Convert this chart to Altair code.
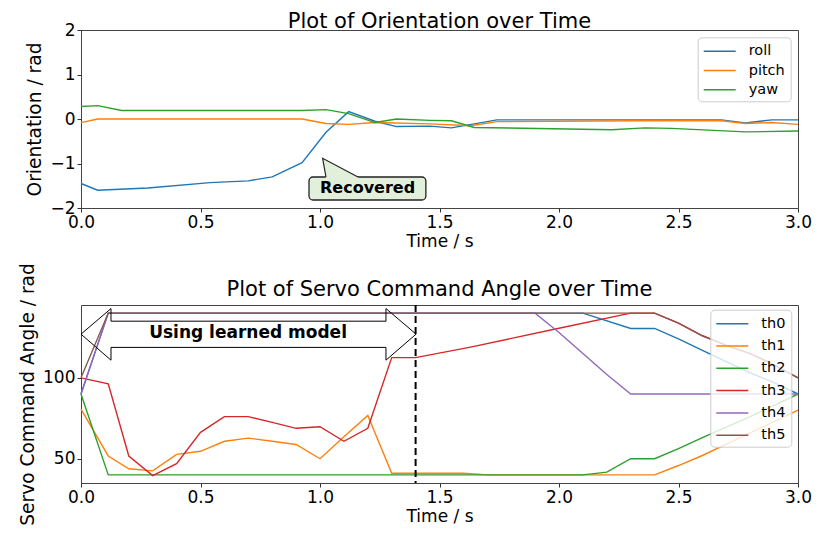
import altair as alt
import pandas as pd

FONT = "DejaVu Sans"

# ---------------- Orientation data (rad) ----------------
roll_t = [0.0, 0.07, 0.28, 0.54, 0.70, 0.80, 0.925, 1.025, 1.12, 1.23, 1.32, 1.46, 1.55, 1.74, 2.68, 2.78, 2.89, 3.0]
roll_v = [-1.45, -1.60, -1.55, -1.43, -1.39, -1.30, -0.98, -0.30, 0.165, -0.05, -0.17, -0.16, -0.20, -0.02, -0.02, -0.09, -0.02, -0.02]

pitch_t = [0.0, 0.07, 0.925, 1.025, 1.12, 1.23, 1.46, 1.63, 1.74, 2.33, 2.68, 2.78, 2.89, 3.0]
pitch_v = [-0.08, 0.0, 0.0, -0.10, -0.12, -0.08, -0.11, -0.15, -0.06, -0.04, -0.04, -0.10, -0.08, -0.12]

yaw_t = [0.0, 0.07, 0.17, 0.925, 1.025, 1.12, 1.23, 1.32, 1.46, 1.55, 1.645, 2.22, 2.36, 2.47, 2.78, 3.0]
yaw_v = [0.28, 0.30, 0.19, 0.19, 0.21, 0.12, -0.08, 0.0, -0.03, -0.04, -0.19, -0.24, -0.20, -0.21, -0.29, -0.27]

orient_names = ["roll", "pitch", "yaw"]
orient_colors = ["#1f77b4", "#ff7f0e", "#2ca02c"]

# ---------------- Servo command data ----------------
th0_t = [0.0, 0.114, 2.1, 2.3, 2.4, 2.5, 2.6, 2.7, 2.8, 2.9, 3.0]
th0_v = [90, 140, 140, 130.5, 130.5, 124, 117, 110, 103, 97, 90]

th1_t = [0.0, 0.114, 0.2, 0.3, 0.4, 0.5, 0.6, 0.7, 0.8, 0.9, 1.0, 1.1, 1.2, 1.3, 1.6, 1.7, 2.4, 2.5, 2.6, 2.7, 2.8, 2.9, 3.0]
th1_v = [80.6, 51.7, 43.8, 42.5, 52.7, 54.6, 60.8, 62.7, 60.8, 58.8, 50, 63.6, 76.7, 41, 41, 40, 40, 45.8, 52, 59, 66, 73, 80]

th2_t = [0.0, 0.114, 2.1, 2.2, 2.3, 2.4, 2.5, 2.6, 2.7, 2.8, 2.9, 3.0]
th2_v = [90, 40, 40, 41.7, 50, 50, 56.3, 63, 69.5, 76, 83, 90]

th3_t = [0.0, 0.114, 0.2, 0.3, 0.4, 0.5, 0.6, 0.7, 0.8, 0.9, 1.0, 1.1, 1.2, 1.3, 1.4, 1.63, 1.98, 2.3, 2.4, 2.5, 2.6, 2.7, 2.8, 2.9, 3.0]
th3_v = [100, 96.3, 51.7, 39.6, 47, 66.3, 76, 76, 72.5, 68.8, 69.8, 60.8, 68.8, 112.5, 112.5, 119, 130, 140, 140, 133.8, 126, 120, 115, 108, 100]

th4_t = [0.0, 0.114, 1.9, 2.0, 2.1, 2.2, 2.3, 3.0]
th4_v = [90, 140, 140, 128, 115, 102, 90, 90]

th5_t = [0.0, 0.114, 2.4, 2.5, 2.6, 2.7, 2.8, 2.9, 3.0]
th5_v = [100, 140, 140, 133.8, 126, 120, 115, 108, 100]

servo_names = ["th0", "th1", "th2", "th3", "th4", "th5"]
servo_colors = ["#1f77b4", "#ff7f0e", "#2ca02c", "#d62728", "#9467bd", "#8c564b"]

# ---------------- Annotations (data units) ----------------
switch_time = [1.4]

arrow_t = [0.0, 0.1255, 0.1255, 1.276, 1.276, 1.402, 1.276, 1.276, 0.1255, 0.1255, 0.0]
arrow_v = [127, 142.8, 135, 135, 142.8, 127, 110.9, 118.8, 118.8, 110.9, 127]
arrow_label = ["Using learned model"]
arrow_label_t = [0.699]
arrow_label_v = [127.4]

rec_label = ["Recovered"]
rec_label_t = [1.199]
rec_label_v = [-1.56]
rec_box_t = [0.954, 1.443]
rec_box_v = [-1.303, -1.82]
wedge_t = [1.011, 1.025, 1.159]
wedge_top = [-0.883, -0.923, -1.303]
wedge_base = [-0.883, -1.33, -1.33]
wedge_line_t = [1.025, 1.011, 1.159]
wedge_line_v = [-1.303, -0.883, -1.303]

BOX_FILL = "#e2efda"


def long_df(names, ts, vs):
    rows = []
    for n, t, v in zip(names, ts, vs):
        for i, (a, b) in enumerate(zip(t, v)):
            rows.append({"series": n, "t": a, "v": b, "i": i})
    return pd.DataFrame(rows)


orient_df = long_df(orient_names, [roll_t, pitch_t, yaw_t], [roll_v, pitch_v, yaw_v])
servo_df = long_df(servo_names,
                   [th0_t, th1_t, th2_t, th3_t, th4_t, th5_t],
                   [th0_v, th1_v, th2_v, th3_v, th4_v, th5_v])

W, H = 717, 178
x_ticks = [0, 0.5, 1, 1.5, 2, 2.5, 3]
xscale = alt.Scale(domain=[0, 3], nice=False, zero=False)


def legend(lx, ly, rowpad):
    return alt.Legend(orient="none", legendX=lx, legendY=ly, title=None,
                      symbolType="M-1,0H3", symbolSize=256, symbolStrokeWidth=1.5,
                      labelFont=FONT, labelFontSize=14.5, labelOffset=28,
                      padding=5, rowPadding=rowpad,
                      strokeColor="#cccccc", fillColor="rgba(255,255,255,0.8)",
                      cornerRadius=4)


# ---------------- Top chart ----------------
yscale_top = alt.Scale(domain=[-2, 2], nice=False, zero=False)
x_top = alt.X("t:Q", scale=xscale, axis=alt.Axis(values=x_ticks, format=".1f", title="Time / s"))
y_top = alt.Y("v:Q", scale=yscale_top, axis=alt.Axis(values=[-2, -1, 0, 1, 2], title="Orientation / rad"))

top_lines = alt.Chart(orient_df).mark_line(strokeWidth=1.4).encode(
    x=x_top, y=y_top,
    color=alt.Color("series:N", scale=alt.Scale(domain=orient_names, range=orient_colors),
                    sort=orient_names, legend=legend(616.7, 7.3, 3.2)),
    detail="series:N",
    order="i:Q",
)

box_df = pd.DataFrame({"t": [rec_box_t[0]], "t2": [rec_box_t[1]], "v": [rec_box_v[0]], "v2": [rec_box_v[1]]})
box = alt.Chart(box_df).mark_rect(fill=BOX_FILL, stroke="#222222", strokeWidth=1.3, cornerRadius=4).encode(
    x=alt.X("t:Q", scale=xscale), x2="t2:Q", y=alt.Y("v:Q", scale=yscale_top), y2="v2:Q")

wedge_df = pd.DataFrame({"t": wedge_t, "v": wedge_top, "v2": wedge_base})
wedge = alt.Chart(wedge_df).mark_area(fill=BOX_FILL, opacity=1).encode(
    x=alt.X("t:Q", scale=xscale), y=alt.Y("v:Q", scale=yscale_top), y2="v2:Q")

wedge_line_df = pd.DataFrame({"t": wedge_line_t, "v": wedge_line_v, "i": list(range(len(wedge_line_t)))})
wedge_line = alt.Chart(wedge_line_df).mark_line(color="#222222", strokeWidth=1.2).encode(
    x=alt.X("t:Q", scale=xscale), y=alt.Y("v:Q", scale=yscale_top), order="i:Q")

rec_df = pd.DataFrame({"t": rec_label_t, "v": rec_label_v, "label": rec_label})
rec_text = alt.Chart(rec_df).mark_text(font=FONT, fontSize=16, fontWeight="bold", color="black",
                                        align="center", baseline="middle").encode(
    x=alt.X("t:Q", scale=xscale), y=alt.Y("v:Q", scale=yscale_top), text="label:N")

top = alt.layer(top_lines, box, wedge, wedge_line, rec_text).properties(
    width=W, height=H, title=alt.TitleParams("Plot of Orientation over Time", offset=-11))

# ---------------- Bottom chart ----------------
yscale_bot = alt.Scale(domain=[35, 145], nice=False, zero=False)
x_bot = alt.X("t:Q", scale=xscale, axis=alt.Axis(values=x_ticks, format=".1f", title="Time / s"))
y_bot = alt.Y("v:Q", scale=yscale_bot, axis=alt.Axis(values=[50, 100], title="Servo Command Angle / rad"))

bot_lines = alt.Chart(servo_df).mark_line(strokeWidth=1.4).encode(
    x=x_bot, y=y_bot,
    color=alt.Color("series:N", scale=alt.Scale(domain=servo_names, range=servo_colors),
                    sort=servo_names, legend=legend(629.3, 4.7, 6.3)),
    detail="series:N",
    order="i:Q",
)

arrow_df = pd.DataFrame({"t": arrow_t, "v": arrow_v, "i": list(range(len(arrow_t)))})
arrow = alt.Chart(arrow_df).mark_line(color="black", strokeWidth=1).encode(
    x=alt.X("t:Q", scale=xscale), y=alt.Y("v:Q", scale=yscale_bot), order="i:Q")

arrow_text_df = pd.DataFrame({"t": arrow_label_t, "v": arrow_label_v, "label": arrow_label})
arrow_text = alt.Chart(arrow_text_df).mark_text(font=FONT, fontSize=17, fontWeight="bold", color="black",
                                                 align="center", baseline="middle").encode(
    x=alt.X("t:Q", scale=xscale), y=alt.Y("v:Q", scale=yscale_bot), text="label:N")

rule_df = pd.DataFrame({"t": switch_time})
rule = alt.Chart(rule_df).mark_rule(color="black", strokeWidth=2, strokeDash=[7, 4]).encode(
    x=alt.X("t:Q", scale=xscale))

bottom = alt.layer(bot_lines, arrow, rule, arrow_text).properties(
    width=W, height=H, title=alt.TitleParams("Plot of Servo Command Angle over Time", offset=-37))

chart = alt.vconcat(top, bottom, spacing=12).resolve_scale(
    color="independent"
).resolve_legend(
    color="independent"
).properties(
    padding={"left": 10, "top": 2, "right": 0, "bottom": 0}
).configure_view(
    stroke="#444444", strokeWidth=1
).configure_axis(
    labelFont=FONT, labelFontSize=17, labelColor="black",
    titleFont=FONT, titleFontWeight="normal", titleColor="black",
    tickSize=4, tickColor="#333333", labelPadding=2, grid=False, domain=False,
    labelFlush=False,
).configure_axisX(
    titleFontSize=17, titlePadding=3,
).configure_axisY(
    titleFontSize=18.6, titlePadding=5,
).configure_title(
    font=FONT, fontSize=21, fontWeight="normal", color="black", anchor="middle",
)

chart.save("out.html", embed_options={"renderer": "svg", "actions": False})
